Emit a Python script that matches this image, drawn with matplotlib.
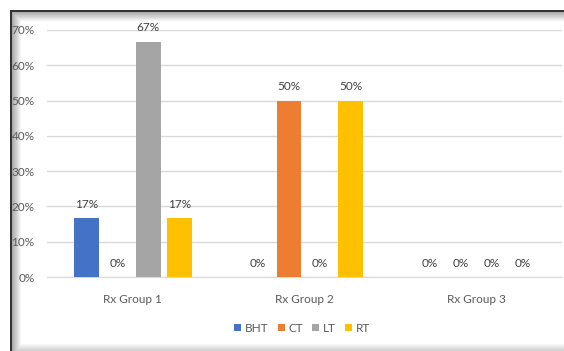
import numpy as np
import matplotlib.pyplot as plt
from matplotlib import font_manager as fm

# data
groups = ["Rx Group 1", "Rx Group 2", "Rx Group 3"]
series = ["BHT", "CT", "LT", "RT"]
values = [
    [16.7, 0, 0],     # BHT
    [0, 50, 0],       # CT
    [66.7, 0, 0],     # LT
    [16.7, 50, 0],    # RT
]
labels = [
    ["17%", "0%", "0%"],
    ["0%", "50%", "0%"],
    ["67%", "0%", "0%"],
    ["17%", "50%", "0%"],
]
colors = ["#4472C4", "#ED7D31", "#A5A5A5", "#FFC000"]

# narrow font if there is one, else Lato
font = 'Lato'
for name in ['Liberation Sans Narrow', 'Lato']:
    try:
        fm.findfont(fm.FontProperties(family=name), fallback_to_default=False)
        font = name
        break
    except ValueError:
        pass
plt.rcParams['font.family'] = [font, 'DejaVu Sans']
fs = 9 if font == 'Liberation Sans Narrow' else 8.5

W, H = 564, 351
fig = plt.figure(figsize=(W / 100, H / 100), dpi=100)

# frame with shadow as background image
bg = np.ones((H, W))
for i in range(12):
    bg[10 + i, 10:] = np.minimum(bg[10 + i, 10:], 0.6 + 0.4 * i / 11)
    bg[10:, 10 + i] = np.minimum(bg[10:, 10 + i], 0.6 + 0.4 * i / 11)
bg[10:12, 10:] = 0.2
bg[10:, 10:12] = 0.2
for i in range(7):
    bg[H - 7 + i, 10:] = np.minimum(bg[H - 7 + i, 10:], 0.97 - 0.025 * i)
bg[:10, :] = 1
bg[:, :10] = 1
bax = fig.add_axes([0, 0, 1, 1])
bax.imshow(np.dstack([bg, bg, bg]), aspect='auto', interpolation='nearest')
bax.axis('off')

ax = fig.add_axes([47 / W, 1 - 277 / H, (562 - 47) / W, (277 - 30) / H])
ax.patch.set_alpha(0)

x = np.arange(len(groups))
step = 0.18
width = 0.145
for k, name in enumerate(series):
    pos = x + (k - 1.5) * step
    bars = ax.bar(pos, values[k], width, color=colors[k], label=name, zorder=3)
    for b, lab in zip(bars, labels[k]):
        ax.annotate(lab, (b.get_x() + b.get_width() / 2, b.get_height()),
                    xytext=(0, 6), textcoords='offset points',
                    ha='center', va='bottom', fontsize=fs, color='#404040')

ax.set_xlim(-0.5, 2.5)
ax.set_ylim(0, 70)
ax.set_yticks(range(0, 71, 10))
ax.set_yticklabels([f"{v}%" for v in range(0, 71, 10)])
ax.set_xticks(x)
ax.set_xticklabels(groups)
ax.grid(axis='y', color='#D9D9D9', linewidth=1, zorder=0)
for s in ['top', 'right', 'left']:
    ax.spines[s].set_visible(False)
ax.spines['bottom'].set_color('#D9D9D9')
ax.tick_params(axis='both', length=0, labelsize=fs, labelcolor='#595959')
ax.tick_params(axis='x', pad=12)
ax.tick_params(axis='y', pad=9)

fig.legend(loc='center', bbox_to_anchor=(302 / W, 1 - 328 / H), ncol=4,
           frameon=False, fontsize=fs, handlelength=0.6, handleheight=0.6,
           handletextpad=0.3, columnspacing=0.8, labelcolor='#595959')

fig.savefig("out.png", dpi=100)
